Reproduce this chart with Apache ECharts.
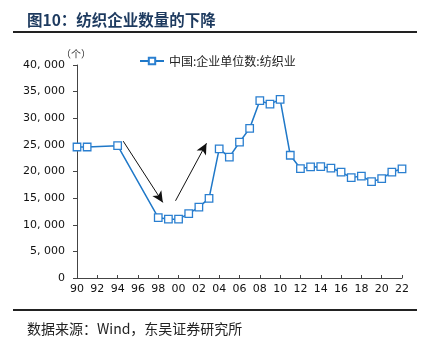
<!DOCTYPE html>
<html><head><meta charset="utf-8">
<script src="https://cdn.jsdelivr.net/npm/echarts@6/dist/echarts.min.js"></script>
<style>html,body{margin:0;padding:0;background:#fff;}#c{width:423px;height:344px;}</style>
</head><body><div id="c"></div>
<script>
const years = [1990,1991,1994,1998,1999,2000,2001,2002,2003,2004,2005,2006,2007,2008,2009,2010,2011,2012,2013,2014,2015,2016,2017,2018,2019,2020,2021,2022];
const values = [24600,24600,24850,11350,11050,11050,12100,13300,14950,24250,22700,25500,28100,33300,32650,33550,23050,20550,20850,20900,20650,19900,18850,19150,18100,18650,19900,20500];
const seriesName = '中国:企业单位数:纺织业';
const arrows = [
  [[1994.55,25700],[1998.45,14200]],
  [[1999.7,14500],[2002.75,25300]]
];
const title = '图10：纺织企业数量的下降';
const source = '数据来源：Wind，东吴证券研究所';
const unit = '（个）';

const chart = echarts.init(document.getElementById('c'), null, {renderer:'canvas'});
function fmtY(v){ if (v===0) return '0'; const t=Math.floor(v/1000), r=v%1000; return t+', '+String(r).padStart(3,'0'); }
chart.setOption({
  animation:false,
  backgroundColor:'#fff',
  title:[{text:title,left:22,top:7,textStyle:{fontFamily:'Noto Sans CJK SC',fontSize:15.5,fontWeight:'bold',color:'#1d3a5f'}},
         {text:source,left:22,top:317,textStyle:{fontFamily:'Noto Sans CJK SC',fontSize:14,fontWeight:'normal',color:'#222'}},
         {text:unit,left:56,top:44,textStyle:{fontFamily:'Noto Sans CJK SC',fontSize:10,fontWeight:'normal',color:'#333'}}],
  graphic:[
    {type:'rect',shape:{x:13,y:31,width:404,height:2},style:{fill:'#222'}},
    {type:'rect',shape:{x:13,y:309,width:404,height:2},style:{fill:'#222'}}
  ],
  legend:{top:50,left:134,itemWidth:24,itemHeight:8,itemGap:6,
    textStyle:{fontFamily:'Noto Sans CJK SC',fontSize:12,color:'#222'},
    data:[seriesName]},
  grid:{left:77,right:21,top:65,bottom:66,containLabel:false},
  xAxis:{type:'value',min:1990,max:2022,interval:2,
    axisLine:{lineStyle:{color:'#444',width:1}},
    axisTick:{inside:true,length:3,lineStyle:{color:'#444'}},
    splitLine:{show:false},
    axisLabel:{color:'#111',fontFamily:'DejaVu Sans',fontSize:11,margin:6,
      formatter:v=>String(v%100).padStart(2,'0')}},
  yAxis:{type:'value',min:0,max:40000,interval:5000,
    axisLine:{show:true,lineStyle:{color:'#444',width:1}},
    axisTick:{show:true,length:4,lineStyle:{color:'#444'}},
    splitLine:{show:false},
    axisLabel:{color:'#111',fontFamily:'DejaVu Sans',fontSize:11,margin:12,formatter:fmtY}},
  series:[{
    name:seriesName,type:'line',
    data:years.map((y,i)=>[y,values[i]]),
    symbol:'rect',symbolSize:7.5,
    itemStyle:{color:'#fff',borderColor:'#2a7fd0',borderWidth:1.3},
    lineStyle:{color:'#1f78c8',width:1.5},
    markLine:{silent:true,symbol:['none','arrow'],symbolSize:[8,11],
      lineStyle:{color:'#111',width:1,type:'solid'},label:{show:false},
      data:arrows.map(a=>[{coord:a[0]},{coord:a[1]}])}
  }]
});
</script></body></html>
